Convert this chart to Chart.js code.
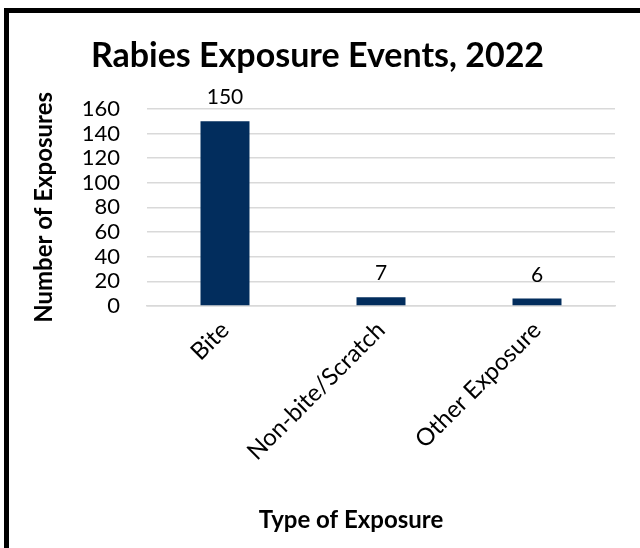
<!DOCTYPE html>
<html lang="en">
<head>
  <meta charset="UTF-8" />
  <title>Rabies Exposure Events, 2022</title>
  <style>
    html, body {
      margin: 0;
      padding: 0;
      background: #fff;
      overflow: hidden;
    }
    .wrap {
      position: absolute;
      left: 0;
      top: 0;
      width: 640px;
      height: 548px;
    }
    .frame {
      position: absolute;
      left: 4px;
      top: 8px;
      width: 700px;
      height: 600px;
      border-left: 5px solid #000;
      border-top: 5px solid #000;
      pointer-events: none;
    }
  </style>
</head>
<body>

<div class="wrap">
  <canvas id="chart" width="640" height="548"></canvas>
</div>
<div class="frame"></div>

<script src="https://cdn.jsdelivr.net/npm/chart.js"></script>
<script>
  const categories = ['Bite', 'Non-bite/Scratch', 'Other Exposure'];
  const exposures = [150, 7, 6];
  const yMax = 160;
  const yStep = 20;

  const chartTitle = 'Rabies Exposure Events, 2022';
  const yTitle = 'Number of Exposures';
  const xTitle = 'Type of Exposure';

  const FONT = "Lato, 'Open Sans', sans-serif";

  // numbers above the bars + x axis title (offset like the original)
  const extraText = {
    id: 'extraText',
    afterDatasetsDraw(chart) {
      const ctx = chart.ctx;
      const meta = chart.getDatasetMeta(0);
      ctx.save();
      ctx.font = `21px ${FONT}`;
      ctx.fillStyle = '#000';
      ctx.textAlign = 'center';
      ctx.textBaseline = 'alphabetic';
      meta.data.forEach((bar, i) => {
        ctx.fillText(String(exposures[i]), bar.x, bar.y - 17);
      });

      ctx.font = `bold 24px ${FONT}`;
      ctx.fillText(xTitle, 351, 528);
      ctx.restore();
    }
  };

  const ctx = document.getElementById('chart').getContext('2d');
  new Chart(ctx, {
    type: 'bar',
    data: {
      labels: categories,
      datasets: [{
        label: 'Exposures',
        data: exposures,
        backgroundColor: '#022d5d',
        borderWidth: 0,
        categoryPercentage: 1,
        barPercentage: 0.314
      }]
    },
    options: {
      responsive: false,
      animation: false,
      layout: {
        padding: { left: 20, right: 25, top: 15, bottom: 0 }
      },
      plugins: {
        legend: { display: false },
        tooltip: { enabled: false },
        title: {
          display: true,
          text: chartTitle,
          color: '#000',
          font: { family: FONT, size: 34, weight: 'bold' },
          padding: { top: 21, bottom: 32 }
        }
      },
      scales: {
        y: {
          min: 0,
          max: yMax,
          ticks: {
            stepSize: yStep,
            autoSkip: false,
            color: '#000',
            padding: 27,
            font: { family: FONT, size: 22 }
          },
          grid: {
            color: '#d9d9d9',
            lineWidth: 1.5,
            drawTicks: false
          },
          border: { display: false },
          title: {
            display: true,
            text: yTitle,
            color: '#000',
            font: { family: FONT, size: 24, weight: 'bold' },
            padding: { top: 10, bottom: 0 }
          },
          afterFit(scale) {
            scale.width = 127;
          }
        },
        x: {
          ticks: {
            color: '#000',
            minRotation: 45,
            maxRotation: 45,
            padding: 10,
            font: { family: FONT, size: 24 }
          },
          grid: {
            display: false,
            drawTicks: false
          },
          border: { color: '#d9d9d9', width: 1.5 },
          afterFit(scale) {
            scale.height = 242;
          }
        }
      }
    },
    plugins: [extraText]
  });
</script>
</body>
</html>
